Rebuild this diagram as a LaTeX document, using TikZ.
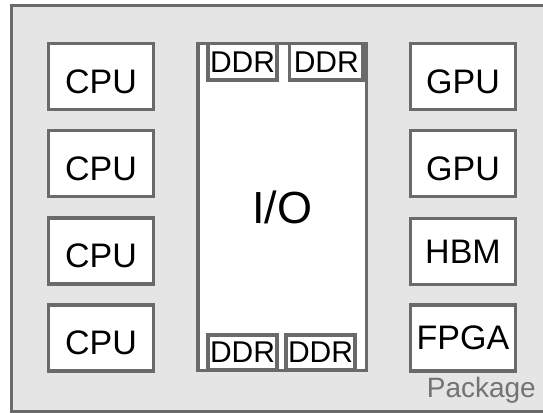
\documentclass[tikz,border=0pt]{standalone}
\usepackage{fontspec}
\setmainfont{Liberation Sans}
\definecolor{edgegray}{HTML}{6A6A6A}
\definecolor{pkgfill}{HTML}{E5E5E5}
\definecolor{labelgray}{HTML}{737373}
\begin{document}
\begin{tikzpicture}[x=1pt, y=-1pt,
  chip/.style={draw=edgegray, line width=3.5pt, fill=white, inner sep=0pt,
    minimum width=105pt, minimum height=66pt,
    font=\fontsize{34}{34}\selectfont},
  lowtext/.style={text height=33.5pt, text depth=0pt},
  iobox/.style={draw=edgegray, line width=3.5pt, fill=white, inner sep=0pt,
    font=\fontsize{45}{45}\selectfont},
  ddr/.style={draw=edgegray, line width=3.5pt, fill=white, inner sep=0pt,
    font=\fontsize{30}{30}\selectfont}]
  \clip (0,0) rectangle (543,412);
  % package substrate
  \draw[draw=edgegray, fill=pkgfill, line width=3.5pt] (11.5,5.5) rectangle (570,411.5);
  \node[anchor=base east, inner sep=0pt, text=labelgray,
        font=\fontsize{28}{28}\selectfont] (pkg) at (536,397) {Package};
  % CPU column
  \node[chip, lowtext] (cpu1) at (101,76.5) {CPU};
  \node[chip, lowtext] (cpu2) at (101,163.7) {CPU};
  \node[chip, lowtext] (cpu3) at (101,250.9) {CPU};
  \node[chip, lowtext] (cpu4) at (101,338.1) {CPU};
  % accelerator column
  \node[chip, lowtext] (gpu1) at (463,76.5) {GPU};
  \node[chip, lowtext] (gpu2) at (463,163.7) {GPU};
  \node[chip] (hbm)  at (463,251.5) {HBM};
  \node[chip] (fpga) at (463,338.1) {FPGA};
  % I/O die with memory controllers
  \node[iobox, minimum width=168.5pt, minimum height=327pt] (io) at (282.25,207) {I/O};
  \node[ddr, minimum width=69pt, minimum height=36.5pt] (ddr1) at (242.5,61.75) {DDR};
  \node[ddr, minimum width=73.5pt, minimum height=36.5pt] (ddr2) at (326.25,61.75) {DDR};
  \node[ddr, minimum width=69pt, minimum height=35pt] (ddr3) at (242.5,352.5) {DDR};
  \node[ddr, minimum width=69pt, minimum height=35pt] (ddr4) at (320.5,352.5) {DDR};
\end{tikzpicture}
\end{document}
